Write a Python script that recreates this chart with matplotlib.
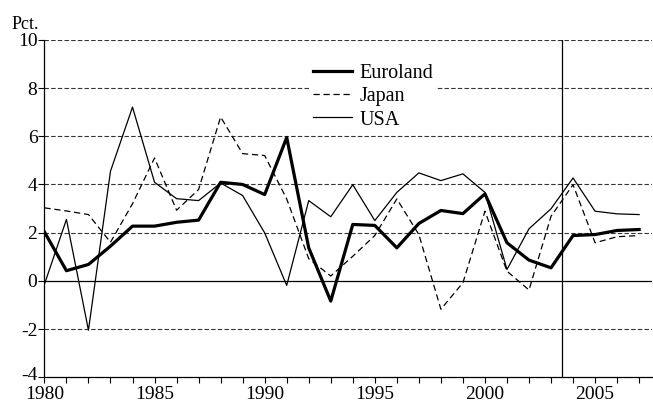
import numpy as np
import matplotlib
matplotlib.use("Agg")
import matplotlib.pyplot as plt
from matplotlib.transforms import ScaledTranslation

# ---- data ----
years = list(range(1980, 2008))

euroland = [2.03, 0.42, 0.68, 1.44, 2.27, 2.27, 2.43, 2.52, 4.09, 4.00, 3.58, 5.95,
            1.37, -0.84, 2.34, 2.30, 1.37, 2.38, 2.92, 2.79, 3.61, 1.58, 0.86, 0.54,
            1.88, 1.92, 2.09, 2.13]
japan = [3.03, 2.90, 2.75, 1.60, 3.20, 5.10, 2.93, 3.79, 6.80, 5.28, 5.20, 3.40,
         0.92, 0.20, 1.02, 1.88, 3.40, 1.92, -1.18, -0.08, 2.89, 0.40, -0.38, 2.68,
         3.99, 1.58, 1.83, 1.88]
usa = [-0.15, 2.55, -2.05, 4.55, 7.21, 4.09, 3.41, 3.33, 4.06, 3.54, 1.99, -0.19,
       3.33, 2.66, 3.99, 2.50, 3.67, 4.48, 4.16, 4.44, 3.67, 0.47, 2.16, 2.99,
       4.27, 2.89, 2.78, 2.75]

grid_vals = [-2, 2, 4, 6, 8, 10]
yticks = [-4, -2, 0, 2, 4, 6, 8, 10]
xticks = [1980, 1985, 1990, 1995, 2000, 2005]
split_year = 2003.5

plt.rcParams['font.family'] = ['Liberation Serif', 'DejaVu Serif']

fig = plt.figure(figsize=(6.53, 4.03), dpi=100)
ax = fig.add_axes([0.068, 0.064, 0.931, 0.837])

for g in grid_vals:
    ax.axhline(g, color='#333333', lw=0.8, ls=(0, (4, 2)), zorder=1)
ax.axhline(0, color='black', lw=0.9, zorder=1)
ax.axvline(split_year, color='black', lw=0.9, zorder=2)

ax.plot(years, euroland, color='black', lw=2.3, label='Euroland', zorder=4)
ax.plot(years, japan, color='black', lw=0.9, ls=(0, (5, 3)), label='Japan', zorder=3)
ax.plot(years, usa, color='black', lw=0.9, label='USA', zorder=3)

ax.set_xlim(1980, 2007.6)
ax.set_ylim(-4, 10)
ax.set_yticks(yticks)
ax.set_yticklabels([str(v) for v in yticks])
ax.set_xticks(xticks)
ax.set_xticks(years, minor=True)
ax.tick_params(axis='both', labelsize=14, length=4, width=0.8, direction='out', pad=1)
ax.tick_params(axis='x', which='minor', length=4, width=0.8)
ax.tick_params(axis='x', pad=2)

# lift the bottom y label a little so it clears "1980"
low = ax.get_yticklabels()[0]
low.set_transform(low.get_transform() + ScaledTranslation(0, 2.5 / 72, fig.dpi_scale_trans))

for s in ['top', 'right']:
    ax.spines[s].set_visible(False)
ax.spines['left'].set_linewidth(0.9)
ax.spines['bottom'].set_linewidth(0.9)

fig.text(12 / 653, 1 - 29 / 403, 'Pct.', fontsize=13, ha='left', va='baseline')

leg = ax.legend(loc='upper left', bbox_to_anchor=(0.435, 0.94), frameon=True,
                fontsize=14.5, handlelength=1.95, handletextpad=0.35, labelspacing=0.2,
                borderpad=0.2, borderaxespad=0)
leg.get_frame().set_edgecolor('none')
leg.get_frame().set_facecolor('white')
leg.get_frame().set_alpha(1)
leg.set_zorder(5)

fig.savefig('out.png', dpi=100)
